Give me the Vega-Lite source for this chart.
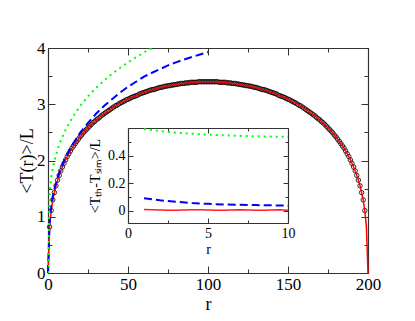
{
  "$schema": "https://vega.github.io/schema/vega-lite/v6.json",
  "autosize": {"type": "none"},
  "width": 320,
  "height": 225,
  "padding": {"left": 48, "top": 48, "right": 47, "bottom": 48},
  "background": "white",
  "config": {
    "view": {"stroke": null},
    "font": "Liberation Serif",
    "axis": {"labelFont": "Liberation Serif", "titleFont": "Liberation Serif", "grid": false, "domainColor": "#333", "domainWidth": 1.2, "tickColor": "#333", "tickWidth": 1, "labelColor": "black", "titleColor": "black", "titleFontWeight": "normal", "format": "~f", "labelFlush": false, "labelOverlap": false}
  },
  "datasets": {
    "main": [
      {"r":0,"T":0},{"r":1,"T":0.82},{"r":2,"T":1.11},{"r":3,"T":1.30},{"r":4,"T":1.43},{"r":5,"T":1.55},{"r":6,"T":1.65},{"r":7,"T":1.735},{"r":8,"T":1.815},{"r":9,"T":1.885},{"r":10,"T":1.95},
      {"r":11,"T":2.01},{"r":12,"T":2.07},{"r":13,"T":2.12},{"r":14,"T":2.17},{"r":15,"T":2.22},{"r":16,"T":2.26},{"r":17,"T":2.30},{"r":18,"T":2.34},{"r":19,"T":2.38},{"r":20,"T":2.42},
      {"r":21,"T":2.45},{"r":22,"T":2.49},{"r":23,"T":2.52},{"r":24,"T":2.55},{"r":25,"T":2.58},{"r":26,"T":2.61},{"r":27,"T":2.64},{"r":28,"T":2.67},{"r":29,"T":2.69},{"r":30,"T":2.72},
      {"r":31,"T":2.74},{"r":32,"T":2.76},{"r":33,"T":2.79},{"r":34,"T":2.81},{"r":35,"T":2.83},{"r":36,"T":2.85},{"r":37,"T":2.87},{"r":38,"T":2.89},{"r":39,"T":2.91},{"r":40,"T":2.93},
      {"r":41,"T":2.95},{"r":42,"T":2.97},{"r":43,"T":2.98},{"r":44,"T":3.00},{"r":45,"T":3.02},{"r":46,"T":3.03},{"r":47,"T":3.05},{"r":48,"T":3.06},{"r":49,"T":3.08},{"r":50,"T":3.09},
      {"r":51,"T":3.10},{"r":52,"T":3.12},{"r":53,"T":3.13},{"r":54,"T":3.14},{"r":55,"T":3.15},{"r":56,"T":3.16},{"r":57,"T":3.18},{"r":58,"T":3.19},{"r":59,"T":3.20},{"r":60,"T":3.21},
      {"r":61,"T":3.22},{"r":62,"T":3.23},{"r":63,"T":3.24},{"r":64,"T":3.25},{"r":65,"T":3.26},{"r":66,"T":3.26},{"r":67,"T":3.27},{"r":68,"T":3.28},{"r":69,"T":3.29},{"r":70,"T":3.30},
      {"r":71,"T":3.30},{"r":72,"T":3.31},{"r":73,"T":3.32},{"r":74,"T":3.32},{"r":75,"T":3.33},{"r":76,"T":3.33},{"r":77,"T":3.34},{"r":78,"T":3.34},{"r":79,"T":3.35},{"r":80,"T":3.35},
      {"r":81,"T":3.36},{"r":82,"T":3.36},{"r":83,"T":3.37},{"r":84,"T":3.37},{"r":85,"T":3.37},{"r":86,"T":3.38},{"r":87,"T":3.38},{"r":88,"T":3.38},{"r":89,"T":3.39},{"r":90,"T":3.39},
      {"r":91,"T":3.39},{"r":92,"T":3.39},{"r":93,"T":3.39},{"r":94,"T":3.40},{"r":95,"T":3.40},{"r":96,"T":3.40},{"r":97,"T":3.40},{"r":98,"T":3.40},{"r":99,"T":3.40},{"r":100,"T":3.40},
      {"r":101,"T":3.40},{"r":102,"T":3.40},{"r":103,"T":3.40},{"r":104,"T":3.40},{"r":105,"T":3.40},{"r":106,"T":3.40},{"r":107,"T":3.39},{"r":108,"T":3.39},{"r":109,"T":3.39},{"r":110,"T":3.39},
      {"r":111,"T":3.39},{"r":112,"T":3.38},{"r":113,"T":3.38},{"r":114,"T":3.38},{"r":115,"T":3.37},{"r":116,"T":3.37},{"r":117,"T":3.37},{"r":118,"T":3.36},{"r":119,"T":3.36},{"r":120,"T":3.35},
      {"r":121,"T":3.35},{"r":122,"T":3.34},{"r":123,"T":3.34},{"r":124,"T":3.33},{"r":125,"T":3.33},{"r":126,"T":3.32},{"r":127,"T":3.32},{"r":128,"T":3.31},{"r":129,"T":3.30},{"r":130,"T":3.30},
      {"r":131,"T":3.29},{"r":132,"T":3.28},{"r":133,"T":3.27},{"r":134,"T":3.26},{"r":135,"T":3.26},{"r":136,"T":3.25},{"r":137,"T":3.24},{"r":138,"T":3.23},{"r":139,"T":3.22},{"r":140,"T":3.21},
      {"r":141,"T":3.20},{"r":142,"T":3.19},{"r":143,"T":3.18},{"r":144,"T":3.16},{"r":145,"T":3.15},{"r":146,"T":3.14},{"r":147,"T":3.13},{"r":148,"T":3.12},{"r":149,"T":3.10},{"r":150,"T":3.09},
      {"r":151,"T":3.08},{"r":152,"T":3.06},{"r":153,"T":3.05},{"r":154,"T":3.03},{"r":155,"T":3.02},{"r":156,"T":3.00},{"r":157,"T":2.98},{"r":158,"T":2.97},{"r":159,"T":2.95},{"r":160,"T":2.93},
      {"r":161,"T":2.91},{"r":162,"T":2.89},{"r":163,"T":2.87},{"r":164,"T":2.85},{"r":165,"T":2.83},{"r":166,"T":2.81},{"r":167,"T":2.79},{"r":168,"T":2.76},{"r":169,"T":2.74},{"r":170,"T":2.72},
      {"r":171,"T":2.69},{"r":172,"T":2.67},{"r":173,"T":2.64},{"r":174,"T":2.61},{"r":175,"T":2.58},{"r":176,"T":2.55},{"r":177,"T":2.52},{"r":178,"T":2.49},{"r":179,"T":2.45},{"r":180,"T":2.42},
      {"r":181,"T":2.38},{"r":182,"T":2.34},{"r":183,"T":2.30},{"r":184,"T":2.26},{"r":185,"T":2.22},{"r":186,"T":2.17},{"r":187,"T":2.12},{"r":188,"T":2.07},{"r":189,"T":2.01},{"r":190,"T":1.95},
      {"r":191,"T":1.885},{"r":192,"T":1.815},{"r":193,"T":1.735},{"r":194,"T":1.65},{"r":195,"T":1.55},{"r":196,"T":1.43},{"r":197,"T":1.30},{"r":198,"T":1.11},{"r":199,"T":0.82},{"r":200,"T":0}
    ],
    "blue": [
      {"r":0,"T":0},{"r":1,"T":0.91},{"r":2,"T":1.185},{"r":3,"T":1.364},{"r":4,"T":1.485},{"r":5,"T":1.60},{"r":6,"T":1.695},{"r":8,"T":1.855},{"r":10,"T":1.99},
      {"r":12,"T":2.11},{"r":15,"T":2.27},{"r":20,"T":2.49},{"r":25,"T":2.67},{"r":30,"T":2.83},{"r":35,"T":2.97},{"r":40,"T":3.09},{"r":45,"T":3.205},{"r":50,"T":3.31},
      {"r":55,"T":3.40},{"r":60,"T":3.49},{"r":65,"T":3.56},{"r":70,"T":3.625},{"r":75,"T":3.69},{"r":80,"T":3.745},{"r":85,"T":3.795},{"r":90,"T":3.84},{"r":95,"T":3.885},{"r":100,"T":3.93}
    ],
    "green": [
      {"r":0,"T":0},{"r":1,"T":1.413},{"r":2,"T":1.687},{"r":3,"T":1.866},{"r":4,"T":1.988},{"r":5,"T":2.10},{"r":6,"T":2.197},{"r":8,"T":2.355},{"r":10,"T":2.485},
      {"r":12,"T":2.60},{"r":15,"T":2.755},{"r":20,"T":2.965},{"r":25,"T":3.14},{"r":30,"T":3.29},{"r":35,"T":3.42},{"r":40,"T":3.54},{"r":45,"T":3.645},{"r":50,"T":3.745},
      {"r":55,"T":3.835},{"r":60,"T":3.92},{"r":65,"T":4.0},{"r":70,"T":4.07}
    ],
    "ired": [
      {"r":1,"d":0.008},{"r":1.5,"d":0.006},{"r":2,"d":0.004},{"r":2.5,"d":0.002},{"r":3,"d":0.002},{"r":3.5,"d":0.004},{"r":4,"d":0.006},{"r":4.5,"d":0.006},{"r":5,"d":0.004},{"r":5.5,"d":0.002},
      {"r":6,"d":0.003},{"r":6.5,"d":0.005},{"r":7,"d":0.006},{"r":7.5,"d":0.004},{"r":8,"d":0.002},{"r":8.5,"d":0.003},{"r":9,"d":0.005},{"r":9.5,"d":0.006},{"r":10,"d":0.003}
    ],
    "iblue": [
      {"r":1,"d":0.09},{"r":2,"d":0.075},{"r":3,"d":0.064},{"r":4,"d":0.055},{"r":5,"d":0.049},{"r":6,"d":0.045},{"r":7,"d":0.042},{"r":8,"d":0.04},{"r":9,"d":0.038},{"r":10,"d":0.036}
    ],
    "igreen": [
      {"r":1,"d":0.593},{"r":2,"d":0.577},{"r":3,"d":0.566},{"r":4,"d":0.558},{"r":5,"d":0.552},{"r":6,"d":0.547},{"r":7,"d":0.543},{"r":8,"d":0.54},{"r":9,"d":0.537},{"r":10,"d":0.535}
    ]
  },
  "layer": [
    {
      "layer": [
        {
          "data": {"name": "main"},
          "transform": [{"filter": "datum.r >= 1 && datum.r <= 198"}],
          "mark": {"type": "point", "shape": "circle", "filled": false, "stroke": "black", "strokeWidth": 0.8, "size": 20, "opacity": 1},
          "encoding": {
            "x": {"field": "r", "type": "quantitative", "scale": {"domain": [0, 200], "nice": false, "zero": false},
              "axis": {"orient": "bottom", "title": "r", "values": [0,25,50,75,100,125,150,175,200], "labelExpr": "datum.value % 50 === 0 ? datum.label : ''", "labelFontSize": 17, "titleFontSize": 18, "labelPadding": 10, "titlePadding": 0,
                "tickSize": {"condition": {"test": "datum.value % 50 === 0", "value": -7}, "value": -4}}},
            "y": {"field": "T", "type": "quantitative", "scale": {"domain": [0, 4], "nice": false, "zero": false},
              "axis": {"orient": "left", "title": "<T(r)>/L", "values": [0,0.5,1,1.5,2,2.5,3,3.5,4], "labelExpr": "datum.value % 1 === 0 ? datum.label : ''", "labelFontSize": 17, "titleFontSize": 18, "labelPadding": 10, "titlePadding": 0,
                "tickSize": {"condition": {"test": "datum.value % 1 === 0", "value": -7}, "value": -4}}}
          }
        },
        {
          "data": {"name": "main"},
          "mark": {"type": "line", "color": "#ff0000", "strokeWidth": 1.5},
          "encoding": {
            "x": {"field": "r", "type": "quantitative", "scale": {"domain": [0, 200], "nice": false, "zero": false},
              "axis": {"orient": "top", "title": null, "labels": false, "values": [0,25,50,75,100,125,150,175,200],
                "tickSize": {"condition": {"test": "datum.value % 50 === 0", "value": -7}, "value": -4}}},
            "y": {"field": "T", "type": "quantitative", "scale": {"domain": [0, 4], "nice": false, "zero": false},
              "axis": {"orient": "right", "title": null, "labels": false, "values": [0,0.5,1,1.5,2,2.5,3,3.5,4],
                "tickSize": {"condition": {"test": "datum.value % 1 === 0", "value": -7}, "value": -4}}}
          }
        },
        {
          "data": {"name": "blue"},
          "mark": {"type": "line", "color": "#0000ff", "strokeWidth": 2, "strokeDash": [8, 4]},
          "encoding": {
            "x": {"field": "r", "type": "quantitative", "scale": {"domain": [0, 200], "nice": false, "zero": false}, "axis": null},
            "y": {"field": "T", "type": "quantitative", "scale": {"domain": [0, 4], "nice": false, "zero": false}, "axis": null}
          }
        },
        {
          "data": {"name": "green"},
          "mark": {"type": "line", "color": "#00ff00", "strokeWidth": 2, "strokeDash": [2, 4], "clip": true},
          "encoding": {
            "x": {"field": "r", "type": "quantitative", "scale": {"domain": [0, 200], "nice": false, "zero": false}, "axis": null},
            "y": {"field": "T", "type": "quantitative", "scale": {"domain": [0, 4], "nice": false, "zero": false}, "axis": null}
          }
        }
      ],
      "resolve": {"axis": {"x": "independent", "y": "independent"}}
    },
    {
      "layer": [
        {
          "data": {"name": "ired"},
          "mark": {"type": "line", "color": "#ff2020", "strokeWidth": 1.5},
          "encoding": {
            "x": {"field": "r", "type": "quantitative", "scale": {"domain": [0, 10], "range": [80, 240], "nice": false, "zero": false},
              "axis": {"orient": "bottom", "offset": -50, "title": "r", "values": [0,2.5,5,7.5,10], "labelExpr": "datum.value % 5 === 0 ? datum.label : ''", "labelFontSize": 14, "titleFontSize": 14, "labelPadding": 8, "titlePadding": 0,
                "tickSize": {"condition": {"test": "datum.value % 5 === 0", "value": -5}, "value": -3}}},
            "y": {"field": "d", "type": "quantitative", "scale": {"domain": [-0.09, 0.6], "range": [175, 80], "nice": false, "zero": false},
              "axis": {"orient": "left", "offset": -80, "title": "<Tₜₕ-Tₛᵢₘ>/L", "values": [0,0.1,0.2,0.3,0.4,0.5], "labelExpr": "abs(datum.value*5 - round(datum.value*5)) < 0.001 ? datum.label : ''", "labelFontSize": 14, "titleFontSize": 14, "labelPadding": 8, "titlePadding": 5,
                "tickSize": {"condition": {"test": "abs(datum.value*5 - round(datum.value*5)) < 0.001", "value": -5}, "value": -3}}}
          }
        },
        {
          "data": {"name": "iblue"},
          "mark": {"type": "line", "color": "#0000ff", "strokeWidth": 2, "strokeDash": [8, 4]},
          "encoding": {
            "x": {"field": "r", "type": "quantitative", "scale": {"domain": [0, 10], "range": [80, 240], "nice": false, "zero": false},
              "axis": {"orient": "top", "offset": -80, "title": null, "labels": false, "values": [0,2.5,5,7.5,10],
                "tickSize": {"condition": {"test": "datum.value % 5 === 0", "value": -5}, "value": -3}}},
            "y": {"field": "d", "type": "quantitative", "scale": {"domain": [-0.09, 0.6], "range": [175, 80], "nice": false, "zero": false},
              "axis": {"orient": "right", "offset": -80, "title": null, "labels": false, "values": [0,0.1,0.2,0.3,0.4,0.5],
                "tickSize": {"condition": {"test": "abs(datum.value*5 - round(datum.value*5)) < 0.001", "value": -5}, "value": -3}}}
          }
        },
        {
          "data": {"name": "igreen"},
          "mark": {"type": "line", "color": "#00ff00", "strokeWidth": 2, "strokeDash": [2, 4]},
          "encoding": {
            "x": {"field": "r", "type": "quantitative", "scale": {"domain": [0, 10], "range": [80, 240], "nice": false, "zero": false}, "axis": null},
            "y": {"field": "d", "type": "quantitative", "scale": {"domain": [-0.09, 0.6], "range": [175, 80], "nice": false, "zero": false}, "axis": null}
          }
        }
      ],
      "resolve": {"axis": {"x": "independent", "y": "independent"}}
    }
  ],
  "resolve": {"scale": {"x": "independent", "y": "independent"}, "axis": {"x": "independent", "y": "independent"}}
}
